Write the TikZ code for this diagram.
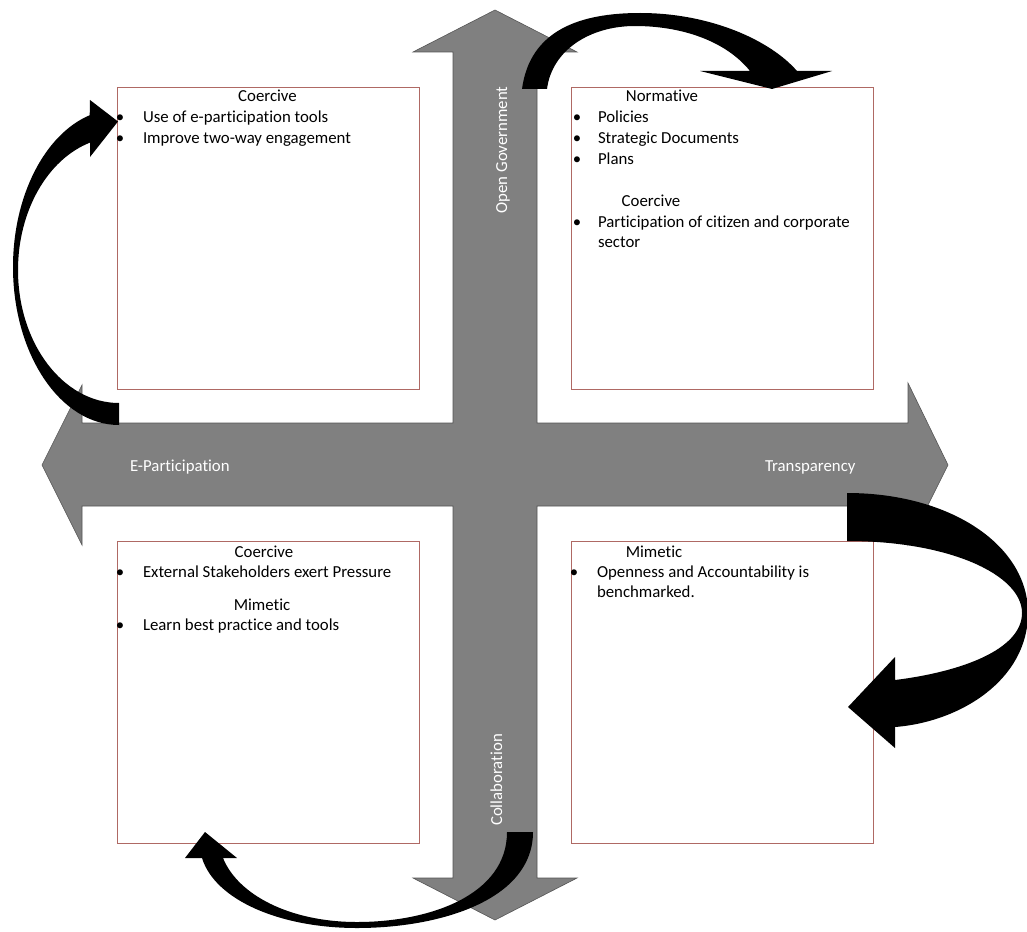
\documentclass[tikz,border=0pt]{standalone}
\usepackage{fontspec}
\setmainfont[Ligatures=NoCommon]{Carlito}
\definecolor{crossgrey}{RGB}{128,128,128}
\definecolor{crossedge}{RGB}{85,85,85}
\definecolor{boxred}{RGB}{175,105,100}
\begin{document}
\begin{tikzpicture}[x=1pt,y=-1pt,
  every node/.style={font=\fontsize{16.8}{20}\selectfont, inner sep=0pt, outer sep=0pt},
  crossarrow/.style={fill=crossgrey, draw=crossedge, line width=0.6pt},
  curveband/.style={fill=black},
  quad/.style={draw=boxred, line width=0.8pt, minimum width=302pt, minimum height=302pt},
  heading/.style={anchor=base},
  dot/.style={anchor=base},
  item/.style={anchor=base west},
  axislabel/.style={text=white, anchor=base west}]

\useasboundingbox (0,0) rectangle (1027,931);
\fill[white] (0,0) rectangle (1027,931);

% four-headed cross
\draw[crossarrow] (495,10) -- (577,52) -- (537,52) -- (537,423) -- (908,423)
  -- (908,383) -- (948,465) -- (908,545) -- (908,506) -- (537,506)
  -- (537,878) -- (577,878) -- (495,920) -- (413,878) -- (453,878)
  -- (453,506) -- (82,506) -- (82,545) -- (42,465) -- (82,385)
  -- (82,423) -- (453,423) -- (453,52) -- (413,52) -- cycle;

\node[axislabel] (ep) at (130,471) {E-Participation};
\node[axislabel] (tp) at (765,471) {Transparency};
\node[text=white, anchor=base, rotate=90] (og) at (507,150) {Open Government};
\node[text=white, anchor=base, rotate=90] (co) at (502,780) {Collaboration};

% quadrant boxes
\node[quad] (tl) at (268,238) {};
\node[quad] (tr) at (722.5,238) {};
\node[quad] (bl) at (268,692.5) {};
\node[quad] (br) at (722.5,692.5) {};

% top left
\node[heading] (tlh) at (267.5,102) {Coercive};
\node[dot] (tld1) at (120,123) {•};
\node[item] (tlt1) at (143,123) {Use of e-participation tools};
\node[dot] (tld2) at (120,143) {•};
\node[item] (tlt2) at (143,143) {Improve two-way engagement};

% top right
\node[heading] (trh) at (662,102) {Normative};
\node[dot] (trd1) at (577,123) {•};
\node[item] (trt1) at (598,123) {Policies};
\node[dot] (trd2) at (577,143) {•};
\node[item] (trt2) at (598,143) {Strategic Documents};
\node[dot] (trd3) at (577,164) {•};
\node[item] (trt3) at (598,164) {Plans};
\node[heading] (trh2) at (651,206) {Coercive};
\node[dot] (trd4) at (577,227) {•};
\node[item] (trt4) at (598,227) {Participation of citizen and corporate};
\node[item] (trt5) at (598,247) {sector};

% bottom left
\node[heading] (blh) at (264,557) {Coercive};
\node[dot] (bld1) at (120,577) {•};
\node[item] (blt1) at (143,577) {External Stakeholders exert Pressure};
\node[heading] (blh2) at (262,610) {Mimetic};
\node[dot] (bld2) at (120,630) {•};
\node[item] (blt2) at (143,630) {Learn best practice and tools};

% bottom right
\node[heading] (brh) at (654,557) {Mimetic};
\node[dot] (brd1) at (574,577) {•};
\node[item] (brt1) at (597,577) {Openness and Accountability is};
\node[item] (brt2) at (597,597) {benchmarked.};

% curved block arrows
\fill[curveband] (119,425) .. controls (60.5,425) and (13,354.3) .. (13,267)
  .. controls (13,196.5) and (44.3,134.6) .. (89.7,115.2)
  -- (90,100) -- (118,121.5) -- (90,157) -- (90,142.6)
  .. controls (47.3,159.4) and (18,211.3) .. (18,270)
  .. controls (18,343.5) and (63.2,403) .. (119,403) -- cycle;

\fill[curveband] (522,89) .. controls (530,30) and (580,13) .. (640,13)
  .. controls (710,13) and (770,40) .. (797,71)
  -- (832,71) -- (772,89) -- (700,71) -- (750,71)
  .. controls (725,40) and (680,26) .. (635,26)
  .. controls (590,26) and (552,50) .. (547,89) -- cycle;

\fill[curveband] (847,493) .. controls (950,493) and (1028,545) .. (1028,613)
  .. controls (1028,680) and (960,722) .. (895,727)
  -- (895,748) -- (848,707) -- (895,657) -- (895,680)
  .. controls (960,672) and (1022,650) .. (1022,613)
  .. controls (1022,575) and (950,541) .. (847,541) -- cycle;

\fill[curveband] (533,832) .. controls (533,900) and (440,928) .. (357,928)
  .. controls (280,928) and (215,900) .. (202,858)
  -- (185,858) -- (205,832) -- (237,858) -- (223,858)
  .. controls (238,895) and (290,922) .. (357,922)
  .. controls (430,922) and (507,895) .. (507,832) -- cycle;
\end{tikzpicture}
\end{document}
